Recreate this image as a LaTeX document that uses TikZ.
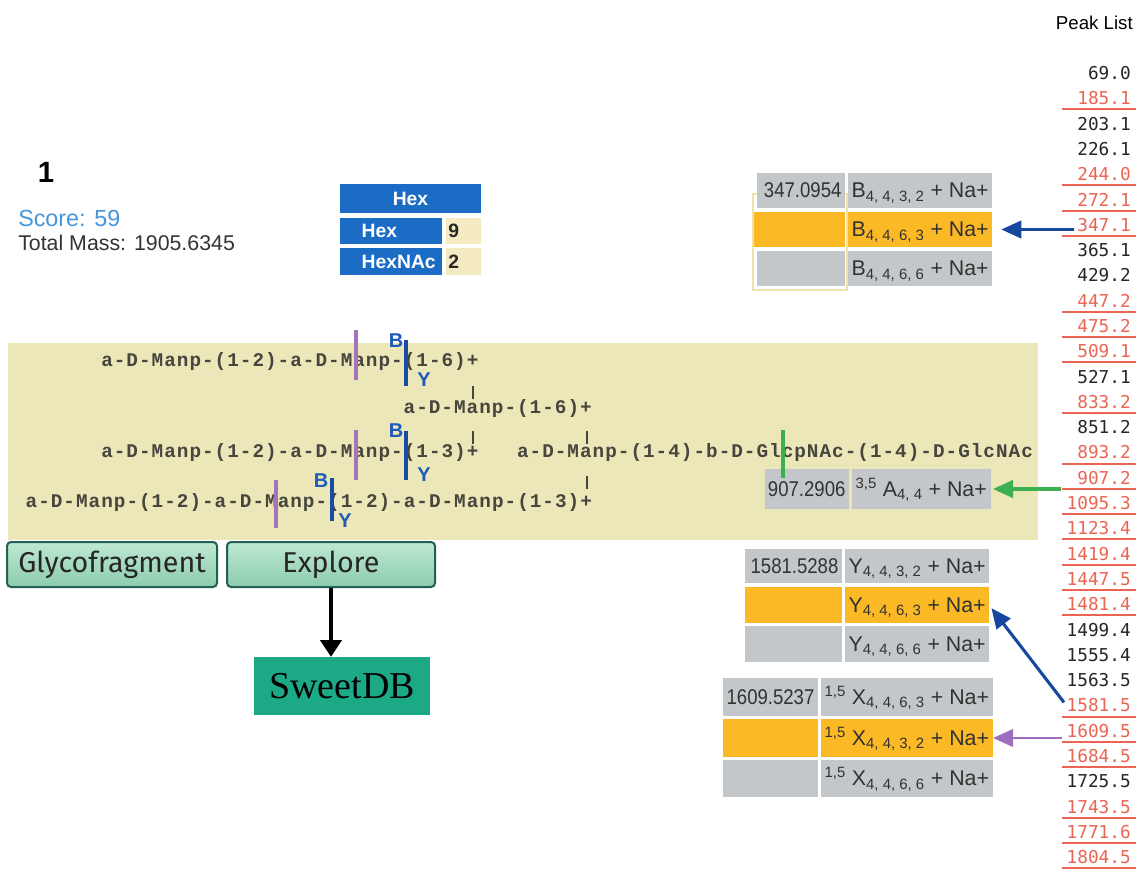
\documentclass[tikz,border=0pt]{standalone}
\usepackage{fontspec}
\setmainfont{Liberation Sans}
\newfontfamily\peakfont{DejaVu Sans Mono}
\newfontfamily\glyfont[LetterSpace=5.2]{Liberation Mono}
\newfontfamily\dbfont{Liberation Serif}
\newfontfamily\btnfont{Fira Sans}
\usetikzlibrary{arrows.meta,fit,calc}
\definecolor{panelbg}{RGB}{236,231,184}
\definecolor{hexblue}{RGB}{26,108,196}
\definecolor{hexbeige}{RGB}{245,235,195}
\definecolor{scoreblue}{RGB}{70,150,220}
\definecolor{cellgray}{RGB}{196,199,201}
\definecolor{cellorange}{RGB}{251,185,38}
\definecolor{celltext}{RGB}{50,50,50}
\definecolor{peakred}{RGB}{236,100,82}
\definecolor{arrblue}{RGB}{22,72,160}
\definecolor{arrgreen}{RGB}{60,176,80}
\definecolor{arrpurple}{RGB}{155,110,190}
\definecolor{cutpurple}{RGB}{165,115,185}
\definecolor{cutblue}{RGB}{25,75,165}
\definecolor{labblue}{RGB}{30,90,185}
\definecolor{glytext}{RGB}{70,70,62}
\definecolor{btntop}{RGB}{190,232,210}
\definecolor{btnbot}{RGB}{140,204,172}
\definecolor{btnborder}{RGB}{35,95,85}
\definecolor{sweet}{RGB}{28,170,134}
\definecolor{tanframe}{RGB}{240,226,172}
\newcommand\cnd[1]{\scalebox{0.87}[1]{#1}}
\tikzset{
  peak/.style={anchor=east, inner sep=0pt, font=\peakfont\fontsize{13.3}{15}\selectfont, text=black!85},
  cellbox/.style={inner sep=0pt, outer sep=0pt, draw=none},
  gly/.style={anchor=base west, inner sep=0pt, font=\glyfont\bfseries\fontsize{14.5}{17}\selectfont, text=glytext},
  glybar/.style={glytext, line width=1.4pt},
  cutp/.style={cutpurple, line width=2.6pt},
  cutb/.style={cutblue, line width=2.6pt},
  cutg/.style={arrgreen, line width=2.6pt},
  bylab/.style={inner sep=0pt, font=\bfseries\fontsize{15}{17}\selectfont, text=labblue},
  num/.style={anchor=base east, inner sep=0pt, xshift=-2.5pt, yshift=-5.6pt, font=\fontsize{16}{18}\selectfont, text=celltext},
  ion/.style={anchor=base west, inner sep=0pt, xshift=2.5pt, yshift=-5.6pt, font=\fontsize{16}{18}\selectfont, text=celltext},
  hexlab/.style={inner sep=0pt, font=\bfseries\fontsize{14.5}{16}\selectfont, text=white},
  hexnum/.style={anchor=west, inner sep=0pt, xshift=1.5pt, font=\bfseries\fontsize{14.5}{16}\selectfont, text=black!85},
  button/.style={draw=btnborder, line width=1.5pt, rounded corners=3pt, top color=btntop, bottom color=btnbot,
     minimum height=33.75pt, inner sep=0pt, font=\btnfont\fontsize{21.5}{24}\selectfont, text=black!85},
  fragarrow/.style={line width=2.3pt, -{Triangle[length=15pt,width=13pt]}},
}
\begin{document}
\begin{tikzpicture}[x=0.75pt,y=-0.75pt]
\fill[white] (0,0) rectangle (1136,869);
\useasboundingbox (0,0) rectangle (1136,869);

% ---------- Peak list ----------
\node[anchor=base east, inner sep=0pt, font=\fontsize{14}{16}\selectfont] (plist) at (1133,29) {Peak List};
\foreach \v/\r [count=\i from 0] in {69.0/0,185.1/1,203.1/0,226.1/0,244.0/1,272.1/1,347.1/1,365.1/0,429.2/0,447.2/1,475.2/1,509.1/1,527.1/0,833.2/1,851.2/0,893.2/1,907.2/1,1095.3/1,1123.4/1,1419.4/1,1447.5/1,1481.4/1,1499.4/0,1555.4/0,1563.5/0,1581.5/1,1609.5/1,1684.5/1,1725.5/0,1743.5/1,1771.6/1,1804.5/1}{
  \pgfmathsetmacro\yy{73+25.3*\i}
  \ifnum\r=1
    \node[peak, text=peakred] (p\i) at (1131,\yy) {\v};
    \draw[peakred, line width=1.5pt] (1062,\yy+11) -- (1136,\yy+11);
  \else
    \node[peak] (p\i) at (1131,\yy) {\v};
  \fi
}

% ---------- Header ----------
\node[anchor=base, inner sep=0pt, font=\bfseries\fontsize{22}{24}\selectfont] (rank) at (46,182) {1};
\node[anchor=base west, inner sep=0pt, font=\fontsize{17.5}{20}\selectfont, text=scoreblue] (score) at (18,226) {Score: 59};
\node[anchor=base west, inner sep=0pt, font=\fontsize{16}{18}\selectfont, text=black!80] (mass) at (18,250) {Total Mass: 1905.6345};

% ---------- Composition table ----------
\node[cellbox, fill=hexblue, fit={(340,184)(481,213)}] (hh) {};
\node[hexlab] (hht) at (hh.center) {Hex};
\node[cellbox, fill=hexblue, fit={(340,218)(442,244)}] (h1l) {};
\node[cellbox, fill=hexbeige, fit={(446,218)(481,244)}] (h1r) {};
\node[cellbox, fill=hexblue, fit={(340,248)(442,275)}] (h2l) {};
\node[cellbox, fill=hexbeige, fit={(446,248)(481,275)}] (h2r) {};
\node[hexlab, anchor=west, xshift=16pt] (h1lt) at (h1l.west) {Hex};
\node[hexlab, anchor=west, xshift=16pt] (h2lt) at (h2l.west) {HexNAc};
\node[hexnum] (h1rt) at (h1r.west) {9};
\node[hexnum] (h2rt) at (h2r.west) {2};

% ---------- Glycan panel ----------
\fill[panelbg] (8,343) rectangle (1038,540);
\node[gly] (g1) at (101,366) {a-D-Manp-(1-2)-a-D-Manp-(1-6)+};
\node[gly] (g2) at (403.4,413) {a-D-Manp-(1-6)+};
\node[gly] (g3) at (101,457) {a-D-Manp-(1-2)-a-D-Manp-(1-3)+};
\node[gly] (g3b) at (516.8,457) {a-D-Manp-(1-4)-b-D-GlcpNAc-(1-4)-D-GlcNAc};
\node[gly] (g4) at (25.4,507) {a-D-Manp-(1-2)-a-D-Manp-(1-2)-a-D-Manp-(1-3)+};
\draw[glybar] (473.3,386) -- (473.3,399);
\draw[glybar] (473.3,431) -- (473.3,444);
\draw[glybar] (586.7,431) -- (586.7,444);
\draw[glybar] (586.7,476) -- (586.7,489);

% cleavage marks
\draw[cutp] (356,330) -- (356,380);
\draw[cutp] (356,430) -- (356,480);
\draw[cutp] (276,480) -- (276,528);
\draw[cutb] (406,340) -- (406,386);
\draw[cutb] (406,431) -- (406,480);
\draw[cutb] (332,478) -- (332,521);
\node[bylab] (b1) at (396,341) {B};
\node[bylab] (y1) at (424,380) {Y};
\node[bylab] (b2) at (396,431) {B};
\node[bylab] (y2) at (424,475) {Y};
\node[bylab] (b3) at (321,481) {B};
\node[bylab] (y3) at (345,521) {Y};

% ---------- B table ----------
\draw[tanframe, line width=1.2pt] (753,194) rectangle (847,290);
\node[cellbox, fill=cellgray, fit={(757,173)(845,208)}] (bl1) {};
\node[cellbox, fill=cellgray, fit={(848,173)(992,208)}] (br1) {};
\node[cellbox, fill=cellorange, fit={(754,212)(845,247)}] (bl2) {};
\node[cellbox, fill=cellorange, fit={(848,212)(992,247)}] (br2) {};
\node[cellbox, fill=cellgray, fit={(757,251)(845,286)}] (bl3) {};
\node[cellbox, fill=cellgray, fit={(848,251)(992,286)}] (br3) {};
\node[num] (bl1t) at (bl1.east) {\cnd{347.0954}};
\node[ion] (br1t) at (br1.west) {B\textsubscript{4, 4, 3, 2} + Na+};
\node[ion] (br2t) at (br2.west) {B\textsubscript{4, 4, 6, 3} + Na+};
\node[ion] (br3t) at (br3.west) {B\textsubscript{4, 4, 6, 6} + Na+};

% ---------- A table ----------
\node[cellbox, fill=cellgray, fit={(765,469)(849,509)}] (al) {};
\node[cellbox, fill=cellgray, fit={(852,469)(991,509)}] (ar) {};
\node[num] (alt) at (al.east) {\cnd{907.2906}};
\node[ion] (art) at (ar.west) {\textsuperscript{3,5} A\textsubscript{4, 4} + Na+};
\draw[cutg] (783,430) -- (783,478);

% ---------- Y table ----------
\node[cellbox, fill=cellgray, fit={(745,549)(842,583)}] (yl1) {};
\node[cellbox, fill=cellgray, fit={(845,549)(989,583)}] (yr1) {};
\node[cellbox, fill=cellorange, fit={(745,587)(842,623)}] (yl2) {};
\node[cellbox, fill=cellorange, fit={(845,587)(989,623)}] (yr2) {};
\node[cellbox, fill=cellgray, fit={(745,626)(842,662)}] (yl3) {};
\node[cellbox, fill=cellgray, fit={(845,626)(989,662)}] (yr3) {};
\node[num] (yl1t) at (yl1.east) {\cnd{1581.5288}};
\node[ion] (yr1t) at (yr1.west) {Y\textsubscript{4, 4, 3, 2} + Na+};
\node[ion] (yr2t) at (yr2.west) {Y\textsubscript{4, 4, 6, 3} + Na+};
\node[ion] (yr3t) at (yr3.west) {Y\textsubscript{4, 4, 6, 6} + Na+};

% ---------- X table ----------
\node[cellbox, fill=cellgray, fit={(723,678)(818,716)}] (xl1) {};
\node[cellbox, fill=cellgray, fit={(821,678)(993,716)}] (xr1) {};
\node[cellbox, fill=cellorange, fit={(723,719)(818,757)}] (xl2) {};
\node[cellbox, fill=cellorange, fit={(821,719)(993,757)}] (xr2) {};
\node[cellbox, fill=cellgray, fit={(723,760)(818,797)}] (xl3) {};
\node[cellbox, fill=cellgray, fit={(821,760)(993,797)}] (xr3) {};
\node[num] (xl1t) at (xl1.east) {\cnd{1609.5237}};
\node[ion] (xr1t) at (xr1.west) {\textsuperscript{1,5} X\textsubscript{4, 4, 6, 3} + Na+};
\node[ion] (xr2t) at (xr2.west) {\textsuperscript{1,5} X\textsubscript{4, 4, 3, 2} + Na+};
\node[ion] (xr3t) at (xr3.west) {\textsuperscript{1,5} X\textsubscript{4, 4, 6, 6} + Na+};

% ---------- Arrows from peaks ----------
\draw[fragarrow, arrblue, shorten <=2pt, shorten >=7pt] (br2.east -| p6.west) -- (br2.east);
\draw[fragarrow, arrgreen, shorten <=12pt, shorten >=1.5pt] (ar.east -| p16.west) -- (ar.east);
\draw[fragarrow, arrblue, shorten <=3pt, shorten >=3pt] (p25.west) -- (yr2.east);
\draw[fragarrow, arrpurple, line width=1.9pt, shorten <=3pt, shorten >=0pt] (xr2.east -| p26.west) -- (xr2.east);

% ---------- Buttons ----------
\node[button, minimum width=157.5pt] (glyco) at (112,564.5) {Glycofragment};
\node[button, minimum width=156pt] (explore) at (331,564.5) {Explore};
\node[fill=sweet, minimum width=132pt, minimum height=43.5pt, inner sep=0pt, font=\dbfont\fontsize{28.5}{30}\selectfont] (sweetdb) at (342,686) {SweetDB};
\draw[line width=2.3pt, -{Triangle[length=12.5pt,width=16pt]}] (explore.south) -- (explore.south |- sweetdb.north);
\end{tikzpicture}
\end{document}
